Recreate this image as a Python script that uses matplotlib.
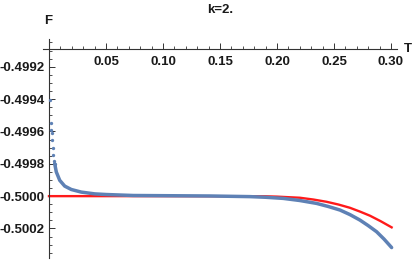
import numpy as np
import matplotlib.pyplot as plt
from matplotlib.ticker import MultipleLocator, FormatStrFormatter

# Datos
t_azul = [0.0013, 0.0018, 0.0020, 0.0024, 0.0027, 0.0032, 0.0038, 0.0044,
          0.0050, 0.0064, 0.0094, 0.0138, 0.0196, 0.0283, 0.0401, 0.0503,
          0.074, 0.141, 0.1763, 0.19, 0.2056, 0.22, 0.2348, 0.245, 0.2553,
          0.264, 0.2728, 0.280, 0.2874, 0.294, 0.3006]
f_azul = [-0.499403, -0.499549, -0.499588, -0.499610, -0.499651, -0.499700,
          -0.499748, -0.499783, -0.499799, -0.499850, -0.499902, -0.499938,
          -0.499959, -0.499975, -0.499986, -0.499990, -0.499996, -0.499999,
          -0.500003, -0.500007, -0.500014, -0.500027, -0.500045, -0.500064,
          -0.500086, -0.500114, -0.500148, -0.500182, -0.500220, -0.500266,
          -0.500318]

t_rojo = [0.0, 0.10, 0.19, 0.200, 0.2202, 0.232, 0.2436, 0.254, 0.2640,
          0.273, 0.2816, 0.291, 0.3006]
f_rojo = [-0.5, -0.5, -0.500001, -0.500003, -0.500010, -0.500021, -0.500035,
          -0.500052, -0.500072, -0.500096, -0.500121, -0.500155, -0.500193]

xticks = [0.05, 0.10, 0.15, 0.20, 0.25, 0.30]
yticks = [-0.4992, -0.4994, -0.4996, -0.4998, -0.5000, -0.5002]

plt.rcParams['font.family'] = ['Liberation Sans', 'DejaVu Sans']
plt.rcParams['font.weight'] = 'bold'

fig = plt.figure(figsize=(4.17, 2.6), dpi=100)
ax = fig.add_axes([0.103, 0.008, 0.849, 0.841])

azul = '#5E81B5'
n_puntos = 9  # primeros valores dibujados como puntos sueltos
ax.plot(t_rojo, f_rojo, color='#ff1a1a', lw=1.7, zorder=2)
ax.plot(t_azul[n_puntos - 1:], f_azul[n_puntos - 1:], color=azul, lw=2.5,
        zorder=3, solid_capstyle='round', solid_joinstyle='round')
ax.plot(t_azul[:n_puntos], f_azul[:n_puntos], 'o', color=azul, ms=2.4,
        mec='none', zorder=3)

ax.set_xlim(-0.0053, 0.3053)
ax.set_ylim(-0.500382, -0.49903)

ax.spines['top'].set_visible(False)
ax.spines['right'].set_visible(False)
ax.spines['left'].set_position(('data', 0))
ax.spines['bottom'].set_position(('data', -0.49909))
for s in ('left', 'bottom'):
    ax.spines[s].set_color('#333333')
    ax.spines[s].set_linewidth(0.8)

ax.set_xticks(xticks)
ax.set_yticks(yticks)
ax.xaxis.set_minor_locator(MultipleLocator(0.01))
ax.yaxis.set_minor_locator(MultipleLocator(0.00005))
ax.xaxis.set_major_formatter(FormatStrFormatter('%.2f'))
ax.yaxis.set_major_formatter(FormatStrFormatter('%.4f'))
ax.tick_params(which='major', direction='in', length=4, width=0.7,
               color='#333333', labelsize=9.5, labelcolor='#1a1a1a', pad=3)
ax.tick_params(which='minor', direction='in', length=2.2, width=0.6,
               color='#333333')
ax.tick_params(axis='x', which='major', pad=5)

ax.text(-0.0003, -0.498955, 'F', fontsize=9.5, ha='center', va='bottom',
        color='#1a1a1a')
ax.text(0.3145, -0.49909, 'T', fontsize=9.5, ha='center', va='center',
        color='#1a1a1a', clip_on=False)
fig.text(0.529, 0.96, 'k=2.', fontsize=9.5, ha='center', va='center',
         color='#1a1a1a')

fig.savefig('out.png', dpi=100)
